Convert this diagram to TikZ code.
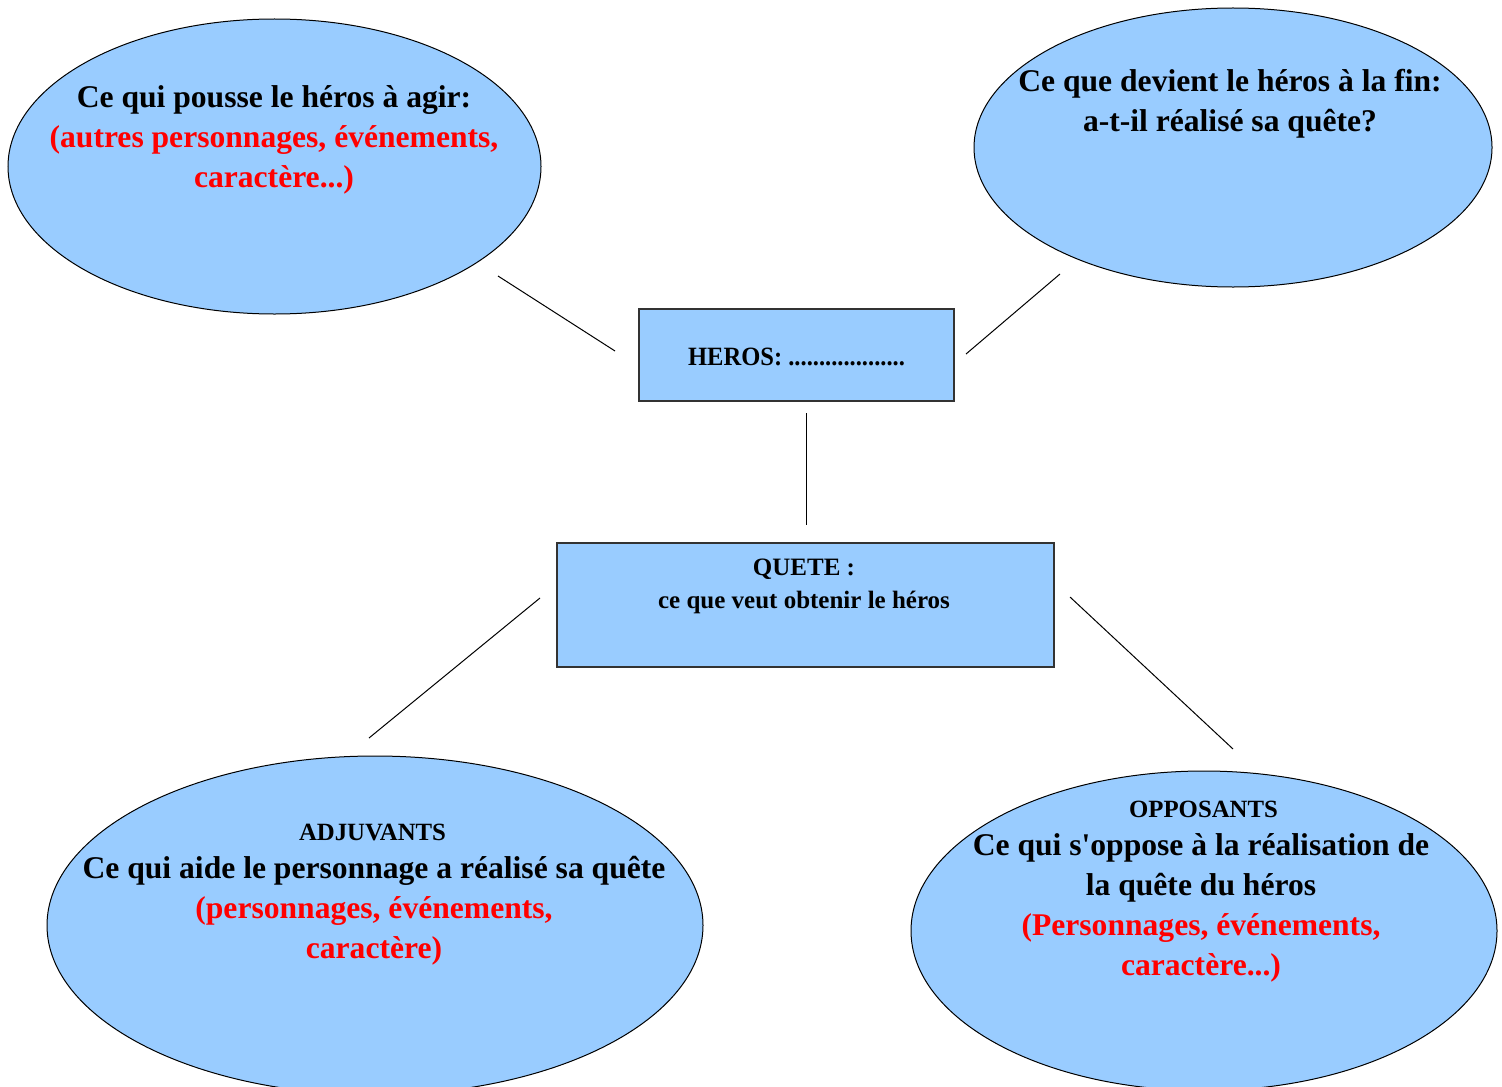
\documentclass[tikz,border=0pt]{standalone}
\usepackage{fontspec}
\setmainfont{Liberation Serif}
\newfontfamily\condfont[FakeStretch=0.93]{Liberation Serif}
\usetikzlibrary{shapes.geometric}
\definecolor{bubblefill}{HTML}{99CCFF}
\definecolor{redtxt}{HTML}{FF0000}
\definecolor{rectline}{HTML}{333333}
\tikzset{
  bubble/.style={ellipse, draw=black, line width=0.5pt, fill=bubblefill, inner sep=0pt},
  box/.style={rectangle, draw=rectline, line width=0.6pt, fill=bubblefill, inner sep=0pt},
  bigtxt/.style={inner sep=0pt, align=center, anchor=north, font=\bfseries\fontsize{15.8}{20}\selectfont},
  smalltxt/.style={inner sep=0pt, anchor=base, font=\bfseries\fontsize{12.4}{15}\selectfont},
  link/.style={draw=black, line width=0.5pt},
}
\begin{document}
\begin{tikzpicture}[x=0.5pt,y=-0.5pt]
\useasboundingbox (0,0) rectangle (1502,1086);
\clip (0,0) rectangle (1502,1086);
% bubbles
\node[bubble, minimum width=266.5pt, minimum height=147.5pt] (tl) at (274.5,166.5) {};
\node[bubble, minimum width=259pt, minimum height=139.5pt] (tr) at (1233,147.5) {};
\node[bubble, minimum width=328pt, minimum height=169.4pt] (bl) at (375,925.4) {};
\node[bubble, minimum width=293pt, minimum height=159.8pt] (br) at (1204,930.8) {};
% boxes
\node[box, minimum width=157.5pt, minimum height=46pt] (heros) at (796.5,355) {};
\node[box, minimum width=248.5pt, minimum height=62pt] (quete) at (805.5,605) {};
% texts
\node[bigtxt] (tltext) at (274,79) {\strut Ce qui pousse le héros à agir:\\\textcolor{redtxt}{\strut (autres personnages, événements,}\\\textcolor{redtxt}{\strut caractère...)}};
\node[bigtxt] (trtext) at (1230,63) {\strut Ce que devient le héros à la fin:\\\strut a-t-il réalisé sa quête?};
\node[inner sep=0pt, anchor=base, font=\condfont\bfseries\fontsize{13.2}{15}\selectfont] (herostext) at (796.5,365) {HEROS: ...................};
\node[inner sep=0pt, align=center, anchor=north, font=\bfseries\fontsize{12.5}{16.5}\selectfont] (quetetext) at (804,552) {\strut QUETE :\\\strut ce que veut obtenir le héros};
\node[smalltxt] (adjtitle) at (372.5,840) {ADJUVANTS};
\node[bigtxt] (adjtext) at (374,850) {\strut Ce qui aide le personnage a réalisé sa quête\\\textcolor{redtxt}{\strut (personnages, événements,}\\\textcolor{redtxt}{\strut caractère)}};
\node[smalltxt] (opptitle) at (1203.5,817) {OPPOSANTS};
\node[bigtxt] (opptext) at (1201,827) {\strut Ce qui s\textquotesingle oppose à la réalisation de\\\strut la quête du héros\\\textcolor{redtxt}{\strut (Personnages, événements,}\\\textcolor{redtxt}{\strut caractère...)}};
% connector ends
\coordinate (a1) at (498,276); \coordinate (a2) at (615,351);
\coordinate (b1) at (1060,274); \coordinate (b2) at (966,354);
\coordinate (c1) at (806,413); \coordinate (c2) at (806,525);
\coordinate (d1) at (540,598); \coordinate (d2) at (369,738);
\coordinate (e1) at (1070,597); \coordinate (e2) at (1233,749);
\draw[link] (a1) -- (a2);
\draw[link] (b1) -- (b2);
\draw[link] (c1) -- (c2);
\draw[link] (d1) -- (d2);
\draw[link] (e1) -- (e2);
\end{tikzpicture}
\end{document}
